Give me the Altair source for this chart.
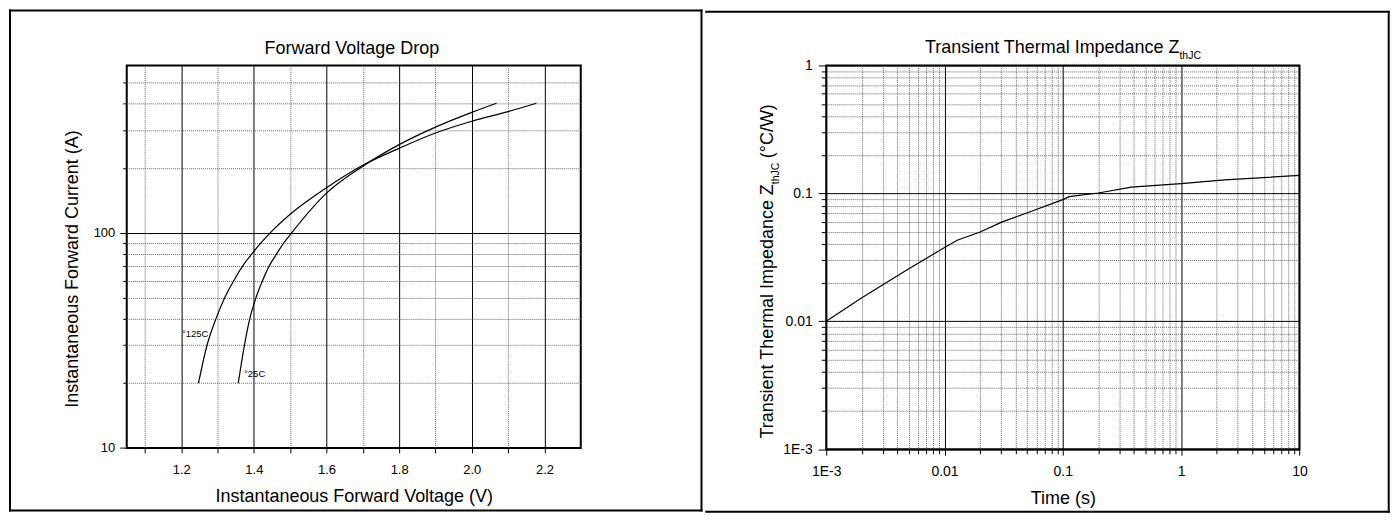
import altair as alt
import pandas as pd

FONT = "Liberation Sans, Arial, Helvetica, sans-serif"

# ---------------- data: Forward Voltage Drop ----------------
v_125 = [1.2475, 1.271, 1.296, 1.32, 1.345, 1.369, 1.395, 1.42, 1.445, 1.5, 1.6, 1.7, 1.8, 1.9, 2.0, 2.1, 2.178]
i_125 = [20, 30, 40, 50, 60, 70, 80, 90, 100, 122, 162, 206, 247, 291, 330, 366, 400]
v_25 = [1.357, 1.374, 1.389, 1.406, 1.424, 1.442, 1.463, 1.483, 1.504, 1.6, 1.7, 1.8, 1.9, 2.0, 2.068]
i_25 = [20, 30, 40, 50, 60, 70, 80, 90, 100, 153, 204, 257, 310, 363, 400]
lbl_text = ["°125C", "°25C"]
lbl_v = [1.202, 1.373]
lbl_i = [33.7, 22.1]

fv_x_major = [1.2, 1.4, 1.6, 1.8, 2.0, 2.2]
fv_x_minor = [1.1, 1.3, 1.5, 1.7, 1.9, 2.1]
fv_y_major = [10, 100]
fv_y_minor = [20, 30, 40, 50, 60, 70, 80, 90, 200, 300, 400, 500]

# ---------------- data: Transient Thermal Impedance ----------------
t_s = [0.001, 0.00194, 0.00495, 0.01, 0.0128, 0.02, 0.0304, 0.0544, 0.1, 0.113, 0.199, 0.38, 1, 2.33, 10]
z_th = [0.01, 0.015, 0.0256, 0.0377, 0.043, 0.0499, 0.0596, 0.0725, 0.0893, 0.0942, 0.1006, 0.112, 0.119, 0.1276, 0.138]

zt_x_major = [0.001, 0.01, 0.1, 1, 10]
zt_x_minor = [0.002, 0.003, 0.004, 0.005, 0.006, 0.007, 0.008, 0.009,
              0.02, 0.03, 0.04, 0.05, 0.06, 0.07, 0.08, 0.09,
              0.2, 0.3, 0.4, 0.5, 0.6, 0.7, 0.8, 0.9,
              2, 3, 4, 5, 6, 7, 8, 9]
zt_y_major = [0.001, 0.01, 0.1, 1]
zt_y_minor = [0.002, 0.003, 0.004, 0.005, 0.006, 0.007, 0.008, 0.009,
              0.02, 0.03, 0.04, 0.05, 0.06, 0.07, 0.08, 0.09,
              0.2, 0.3, 0.4, 0.5, 0.6, 0.7, 0.8, 0.9]

fv_df = pd.concat([
    pd.DataFrame({"v": v_125, "i": i_125, "s": "125C"}),
    pd.DataFrame({"v": v_25, "i": i_25, "s": "25C"}),
], ignore_index=True)
fv_lbl = pd.DataFrame({"lv": lbl_v, "li": lbl_i, "lt": lbl_text})
zt_df = pd.DataFrame({"t": t_s, "z": z_th})
one = pd.DataFrame({"k": [0]})


def rect(x, x2, y, y2):
    return alt.Chart(one).mark_rect(color="black").encode(
        x=alt.value(x), x2=alt.value(x2), y=alt.value(y), y2=alt.value(y2))


def txt(s, x, y, size=18, align="left", angle=0):
    return alt.Chart(one).mark_text(
        text=s, font=FONT, fontSize=size, align=align, baseline="alphabetic",
        angle=angle, color="black").encode(x=alt.value(x), y=alt.value(y))


GRID_MINOR = dict(grid=True, gridColor="#666666", gridDash=[1, 1], gridWidth=1,
                  labels=False, title=None, domain=False, tickColor="black", tickWidth=1)


def major(size):
    return dict(grid=True, gridColor="black", gridWidth=1, domain=False,
                tickColor="black", tickWidth=1, labelFont=FONT, labelFontSize=size,
                labelColor="black", labelFlush=False, labelOverlap=False,
                titleFont=FONT, titleFontSize=18, titleFontWeight="normal", titleColor="black")


# ---------------- left panel ----------------
fx = alt.Scale(domain=[1.05, 2.3], nice=False, zero=False)
fy = alt.Scale(type="log", domain=[10, 600], nice=False)

fv_minor = alt.Chart(fv_df).mark_line(strokeOpacity=0).encode(
    x=alt.X("v:Q", scale=fx, axis=alt.Axis(orient="bottom", values=fv_x_minor, tickSize=5, **GRID_MINOR)),
    y=alt.Y("i:Q", scale=fy, axis=alt.Axis(orient="left", values=fv_y_minor, tickSize=4, **GRID_MINOR)),
    detail="s:N")
fv_major = alt.Chart(fv_df).mark_line(color="black", strokeWidth=1.2, interpolate="monotone").encode(
    x=alt.X("v:Q", scale=fx, axis=alt.Axis(
        orient="bottom", values=fv_x_major, format=".1f", tickSize=5, labelPadding=11,
        title="Instantaneous Forward Voltage (V)", titleY=54, titleBaseline="alphabetic", **major(13))),
    y=alt.Y("i:Q", scale=fy, axis=alt.Axis(
        orient="left", values=fv_y_major, format="d", tickSize=7, labelPadding=5,
        title="Instantaneous Forward Current (A)", titleAngle=270, titleX=-49, titleY=203.5,
        titleAlign="center", titleBaseline="alphabetic", **major(13))),
    detail="s:N")
fv_labels = alt.Chart(fv_lbl).mark_text(font=FONT, fontSize=9.5, align="left", baseline="middle", color="black").encode(
    x=alt.X("lv:Q", scale=fx, axis=None),
    y=alt.Y("li:Q", scale=fy, axis=None),
    text="lt:N")

left = alt.layer(
    rect(-118, -116, -56, 447), rect(-118, 577, -56, -54),
    rect(-118, 577, 445, 447), rect(575, 577, -56, 447),
    fv_minor, fv_major, fv_labels,
    txt("Forward Voltage Drop", 225.6, -11.7, align="center"),
).resolve_axis(x="independent", y="independent").properties(width=455, height=383.3)

# ---------------- right panel ----------------
zx = alt.Scale(type="log", domain=[0.001, 10], nice=False)
zy = alt.Scale(type="log", domain=[0.001, 1], nice=False)
LBL = "datum.value < 0.005 ? '1E-3' : '' + datum.value"

zt_minor = alt.Chart(zt_df).mark_line(strokeOpacity=0).encode(
    x=alt.X("t:Q", scale=zx, axis=alt.Axis(orient="bottom", values=zt_x_minor, tickSize=4.5, **GRID_MINOR)),
    y=alt.Y("z:Q", scale=zy, axis=alt.Axis(orient="left", values=zt_y_minor, tickSize=5, **GRID_MINOR)))
zt_major = alt.Chart(zt_df).mark_line(color="black", strokeWidth=1.2).encode(
    x=alt.X("t:Q", scale=zx, axis=alt.Axis(
        orient="bottom", values=zt_x_major, labelExpr=LBL, tickSize=6, labelPadding=9,
        title="Time (s)", titleY=54, titleBaseline="alphabetic", **major(14))),
    y=alt.Y("z:Q", scale=zy, axis=alt.Axis(
        orient="left", values=zt_y_major, labelExpr=LBL, tickSize=8, labelPadding=6,
        title=None, **major(14))))

right = alt.layer(
    rect(-121.3, 564.7, -54.7, -52.7), rect(-121.3, 564.7, 446.3, 448.3),
    rect(562.7, 564.7, -54.7, 448.3),
    zt_minor, zt_major,
    txt("Transient Thermal Impedance Z", 99, -12.7),
    txt("thJC", 354, -6, size=10.5),
    txt("Transient Thermal Impedance Z", -53, 374, angle=270),
    txt("thJC", -47, 119, size=10.5, angle=270),
    txt("(°C/W)", -53, 93, angle=270),
).resolve_axis(x="independent", y="independent").properties(width=474.2, height=384.6)

chart = alt.hconcat(left, right, spacing=0, padding=0, background="white").configure_view(
    stroke="black", strokeWidth=2)

chart.save("out.html", embed_options={"renderer": "svg", "actions": False})
